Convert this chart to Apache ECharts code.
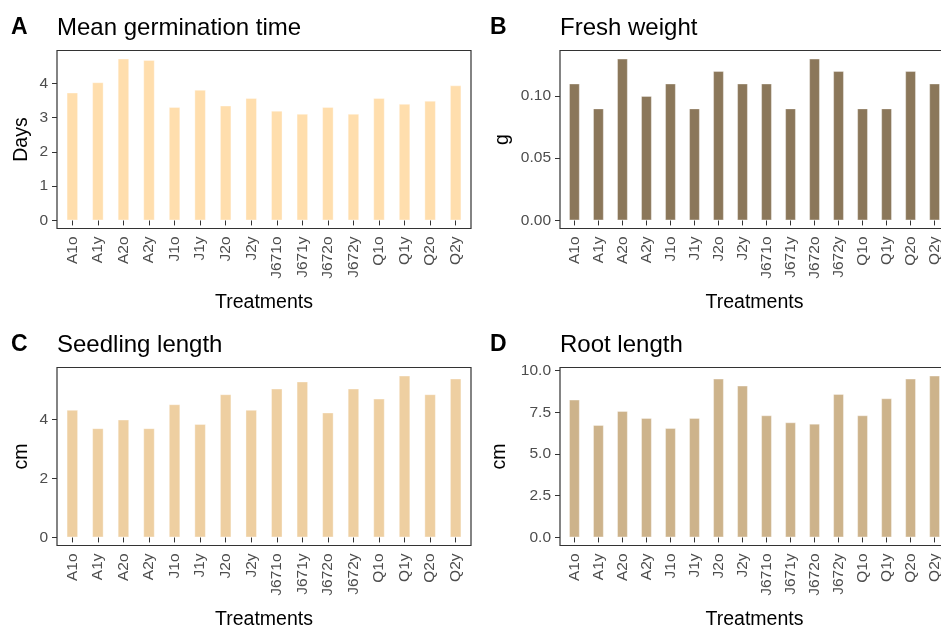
<!DOCTYPE html>
<html>
<head>
<meta charset="utf-8">
<script src="https://cdn.jsdelivr.net/npm/echarts@6/dist/echarts.min.js"></script>
<style>html,body{margin:0;padding:0;background:#fff;overflow:hidden}#c{width:941px;height:629px}</style>
</head>
<body>
<div id="c"></div>
<script>
const categories = ['A1o','A1y','A2o','A2y','J1o','J1y','J2o','J2y','J671o','J671y','J672o','J672y','Q1o','Q1y','Q2o','Q2y'];
const germinationDays = [3.73,4.03,4.72,4.68,3.31,3.81,3.35,3.57,3.20,3.11,3.31,3.11,3.57,3.40,3.49,3.94];
const freshWeight = [0.11,0.09,0.13,0.10,0.11,0.09,0.12,0.11,0.11,0.09,0.13,0.12,0.09,0.09,0.12,0.11];
const seedlingLength = [4.32,3.70,3.99,3.70,4.51,3.84,4.85,4.32,5.04,5.28,4.23,5.04,4.70,5.48,4.85,5.38];
const rootLength = [8.26,6.74,7.58,7.16,6.56,7.16,9.52,9.10,7.32,6.90,6.82,8.60,7.32,8.34,9.52,9.70];

const ticksA = [0,1,2,3,4];
const ticksB = [0,0.05,0.10];
const ticksC = [0,2,4];
const ticksD = [0,2.5,5,7.5,10];

const tags = ['A','B','C','D'];
const titles = ['Mean germination time','Fresh weight','Seedling length','Root length'];
const yNames = ['Days','g','cm','cm'];
const xName = 'Treatments';

const panels = [
  {data: germinationDays, ticks: ticksA, dec: 0, color: '#FFDEAD', box: [57, 50.5, 414, 178], nameGap: 25},
  {data: freshWeight,     ticks: ticksB, dec: 2, color: '#8B775A', box: [560, 50.5, 389, 178], nameGap: 47},
  {data: seedlingLength,  ticks: ticksC, dec: 0, color: '#EECFA1', box: [57, 367.5, 414, 178], nameGap: 25},
  {data: rootLength,      ticks: ticksD, dec: 1, color: '#CDB38B', box: [560, 367.5, 389, 178], nameGap: 50}
];

const FONT = 'Liberation Sans, Arial, sans-serif';
const grids = [], xAxes = [], yAxes = [], series = [], titleArr = [], graphics = [];

panels.forEach((p, i) => {
  const [x0, y0, w, h] = p.box;
  const inset = w * 0.1 / 16.2;
  const dmax = Math.max(...p.data);
  grids.push({left: x0 + inset, top: y0, width: w - 2 * inset, height: h,
    containLabel: false, outerBoundsMode: 'none'});
  xAxes.push({
    type: 'category', gridIndex: i, data: categories,
    axisLine: {show: false},
    axisTick: {show: true, alignWithLabel: true, length: 5, lineStyle: {color: '#333333', width: 1}},
    axisLabel: {rotate: 90, margin: 8, interval: 0, color: '#4D4D4D', fontSize: 15.5, fontFamily: FONT, hideOverlap: false},
    name: xName, nameLocation: 'middle', nameGap: 64,
    nameTextStyle: {color: '#000', fontSize: 19.5, fontFamily: FONT}
  });
  yAxes.push({
    type: 'value', gridIndex: i, offset: inset,
    min: -0.05 * dmax, max: 1.05 * dmax,
    splitLine: {show: false},
    axisLine: {show: false},
    axisTick: {show: true, length: 5, customValues: p.ticks, lineStyle: {color: '#333333', width: 1}},
    axisLabel: {customValues: p.ticks, margin: 9, color: '#4D4D4D', fontSize: 15.5, fontFamily: FONT,
      formatter: v => Number(v).toFixed(p.dec)},
    name: yNames[i], nameLocation: 'middle', nameGap: p.nameGap,
    nameTextStyle: {color: '#000', fontSize: 19.5, fontFamily: FONT}
  });
  series.push({
    type: 'bar', xAxisIndex: i, yAxisIndex: i, data: p.data, barWidth: '45%',
    itemStyle: {color: p.color, borderColor: 'rgba(255,255,255,0.35)', borderWidth: 1},
    silent: true, animation: false
  });
  titleArr.push({text: tags[i], left: (i % 2 === 0 ? 11 : 490), top: y0 - 34, padding: 0,
    textStyle: {fontSize: 23, fontWeight: 'bold', color: '#000', fontFamily: FONT}});
  titleArr.push({text: titles[i], left: x0, top: y0 - 34, padding: 0,
    textStyle: {fontSize: 24, fontWeight: 'normal', color: '#000', fontFamily: FONT}});
  graphics.push({type: 'rect', shape: {x: x0, y: y0, width: w, height: h}, z: 10,
    style: {fill: 'none', stroke: '#333333', lineWidth: 1.2}, silent: true});
});

const chart = echarts.init(document.getElementById('c'), null, {renderer: 'canvas'});
chart.setOption({
  animation: false,
  backgroundColor: '#fff',
  title: titleArr,
  grid: grids,
  xAxis: xAxes,
  yAxis: yAxes,
  series: series,
  graphic: graphics
});
</script>
</body>
</html>
